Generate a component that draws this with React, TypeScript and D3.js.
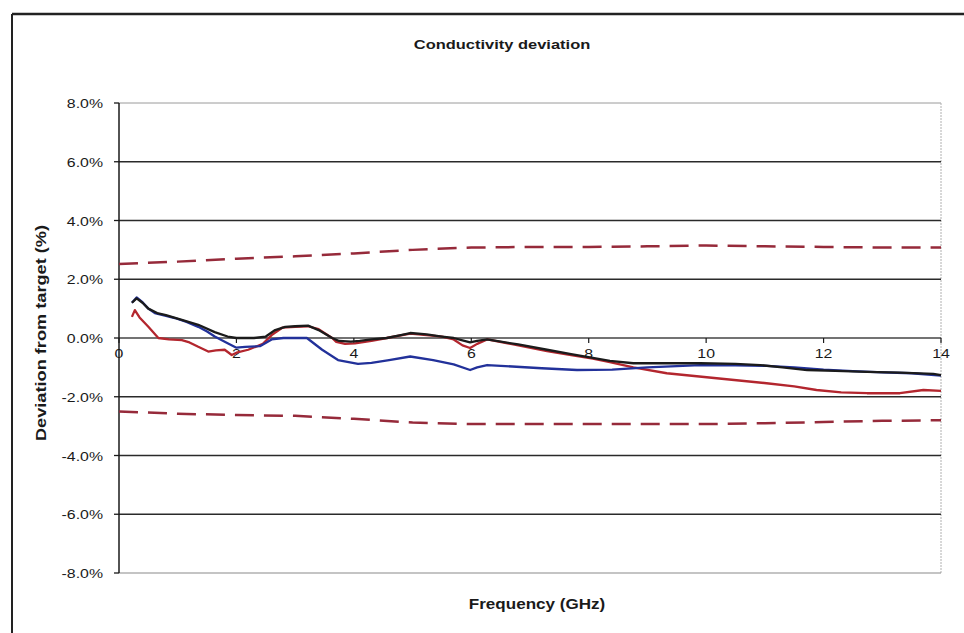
import { useMemo } from 'react';
import * as d3 from 'd3';

// values (GHz, % deviation)
const blackFreq = [0.22, 0.3, 0.4, 0.5, 0.65, 0.8, 1.07, 1.35, 1.63, 1.85, 2.0, 2.3, 2.5, 2.66, 2.83, 3.0, 3.22, 3.4, 3.63, 3.75, 3.95, 4.1, 4.3, 4.56, 4.8, 4.96, 5.24, 5.5, 5.7, 5.85, 5.98, 6.1, 6.27, 6.8, 7.29, 7.7, 8.07, 8.36, 8.76, 9.3, 9.9, 10.5, 10.92, 11.3, 11.72, 12.2, 12.74, 13.3, 13.87, 14];
const blackDev = [1.2, 1.35, 1.2, 1.0, 0.85, 0.78, 0.62, 0.45, 0.2, 0.05, 0.0, 0.0, 0.05, 0.27, 0.38, 0.4, 0.42, 0.27, 0.0, -0.1, -0.12, -0.1, -0.05, 0.0, 0.1, 0.17, 0.12, 0.05, 0.0, -0.08, -0.15, -0.1, -0.05, -0.22, -0.4, -0.55, -0.68, -0.78, -0.86, -0.86, -0.86, -0.88, -0.92, -1.0, -1.09, -1.12, -1.15, -1.18, -1.22, -1.26];

const redFreq = [0.22, 0.27, 0.35, 0.5, 0.67, 0.85, 1.07, 1.2, 1.35, 1.52, 1.65, 1.8, 1.92, 2.0, 2.2, 2.45, 2.6, 2.78, 3.0, 3.22, 3.4, 3.63, 3.7, 3.85, 4.02, 4.3, 4.56, 4.96, 5.24, 5.5, 5.7, 5.85, 5.98, 6.1, 6.27, 6.8, 7.29, 7.7, 8.07, 8.36, 8.76, 9.33, 10.18, 11.03, 11.5, 11.88, 12.3, 12.74, 13.3, 13.7, 14];
const redDev = [0.72, 0.95, 0.7, 0.38, 0.0, -0.05, -0.07, -0.15, -0.3, -0.46, -0.42, -0.4, -0.58, -0.5, -0.4, -0.2, 0.1, 0.35, 0.38, 0.4, 0.3, 0.0, -0.13, -0.2, -0.18, -0.1, 0.0, 0.15, 0.1, 0.05, -0.05, -0.25, -0.34, -0.2, -0.05, -0.25, -0.45, -0.58, -0.7, -0.82, -1.0, -1.2, -1.37, -1.54, -1.65, -1.77, -1.85, -1.88, -1.88, -1.77, -1.8];

const blueFreq = [0.22, 0.3, 0.4, 0.5, 0.61, 0.8, 0.95, 1.15, 1.35, 1.5, 1.63, 1.85, 2.0, 2.15, 2.4, 2.6, 2.8, 3.0, 3.2, 3.46, 3.73, 4.07, 4.3, 4.6, 4.96, 5.35, 5.7, 5.98, 6.1, 6.27, 7.2, 7.8, 8.4, 9.0, 9.9, 10.5, 11.03, 11.5, 12.0, 12.5, 13.0, 13.5, 14];
const blueDev = [1.2, 1.38, 1.22, 1.0, 0.85, 0.75, 0.68, 0.55, 0.38, 0.22, 0.05, -0.18, -0.33, -0.3, -0.28, -0.05, 0.0, 0.0, 0.0, -0.4, -0.75, -0.88, -0.85, -0.75, -0.63, -0.75, -0.9, -1.09, -1.0, -0.92, -1.03, -1.09, -1.08, -1.0, -0.92, -0.93, -0.95, -1.0, -1.08, -1.13, -1.17, -1.2, -1.28];

const limitFreq = [0, 1, 2, 3, 4, 5, 6, 7, 8, 9, 10, 11, 12, 13, 14];
const upperLimit = [2.52, 2.6, 2.7, 2.78, 2.88, 3.0, 3.08, 3.1, 3.1, 3.12, 3.15, 3.12, 3.1, 3.08, 3.08];
const lowerLimit = [-2.5, -2.58, -2.62, -2.65, -2.75, -2.88, -2.93, -2.93, -2.93, -2.93, -2.93, -2.9, -2.86, -2.82, -2.8];

const yTicks = [-8, -6, -4, -2, 0, 2, 4, 6, 8];
const xTicks = [0, 2, 4, 6, 8, 10, 12, 14];

const W = 964;
const H = 633;
const FONT = '"Liberation Sans", Arial, sans-serif';

// the scan is a little wider than it is tall, so text gets stretched sideways
function Txt({ x, y, text, anchor = 'middle', bold = false, size = 13, rotate = 0, sx = 1.22 }: any) {
  return (
    <g transform={`translate(${x},${y}) rotate(${rotate}) scale(${sx},1)`}>
      <text
        textAnchor={anchor}
        fontFamily={FONT}
        fontSize={size}
        fontWeight={bold ? 'bold' : 'normal'}
        fill="#1a1a1a"
      >
        {text}
      </text>
    </g>
  );
}

export default function App() {
  const x = useMemo(() => d3.scaleLinear().domain([0, 14]).range([119, 941]), []);
  const y = useMemo(() => d3.scaleLinear().domain([-8, 8]).range([573, 103]), []);

  const line = d3
    .line<[number, number]>()
    .x((d) => x(d[0]))
    .y((d) => y(d[1]));

  const zip = (f: number[], v: number[]) => f.map((d, i) => [d, v[i]] as [number, number]);

  const series = [
    { f: redFreq, v: redDev, color: '#b3262e' },
    { f: blueFreq, v: blueDev, color: '#22319a' },
    { f: blackFreq, v: blackDev, color: '#1b1b1b' },
  ];

  return (
    <svg
      width={W}
      height={H}
      style={{ position: 'absolute', left: 0, top: 0, background: '#fff' }}
    >
      <rect x={0} y={0} width={W} height={H} fill="#fff" />
      {/* outer chart frame */}
      <line x1={12} y1={14} x2={W} y2={14} stroke="#222" strokeWidth={2.5} />
      <line x1={12} y1={14} x2={12} y2={H} stroke="#222" strokeWidth={2} />

      <Txt x={502} y={49} text="Conductivity deviation" bold size={13.5} />

      {/* plot area border */}
      <line x1={x(0)} y1={y(8)} x2={x(14)} y2={y(8)} stroke="#9a9a9a" strokeWidth={1} />
      <line x1={x(14)} y1={y(8)} x2={x(14)} y2={y(-8)} stroke="#b0b0b0" strokeWidth={1} strokeDasharray="2,1" />
      <line x1={x(0)} y1={y(-8)} x2={x(14)} y2={y(-8)} stroke="#8a8a8a" strokeWidth={1.2} />

      {/* horizontal gridlines */}
      {yTicks
        .filter((t) => t !== 8 && t !== -8)
        .map((t) => (
          <line
            key={t}
            x1={x(0)}
            y1={y(t)}
            x2={x(14)}
            y2={y(t)}
            stroke={t === 0 ? '#444' : '#2a2a2a'}
            strokeWidth={1.6}
          />
        ))}

      {/* y axis */}
      <line x1={x(0)} y1={y(8)} x2={x(0)} y2={y(-8)} stroke="#1a1a1a" strokeWidth={1.5} />
      {yTicks.map((t) => (
        <g key={t}>
          <line x1={x(0) - 5} y1={y(t)} x2={x(0)} y2={y(t)} stroke="#1a1a1a" strokeWidth={1.3} />
          <Txt x={x(0) - 16} y={y(t) + 5} text={`${t.toFixed(1)}%`} anchor="end" size={13} />
        </g>
      ))}

      {/* x axis ticks at 0% */}
      {xTicks.map((t) => (
        <g key={t}>
          <line x1={x(t)} y1={y(0)} x2={x(t)} y2={y(0) + 5} stroke="#1a1a1a" strokeWidth={1.2} />
          <Txt x={x(t)} y={y(0) + 20} text={String(t)} size={13} />
        </g>
      ))}

      {/* tolerance limits */}
      {[upperLimit, lowerLimit].map((v, i) => (
        <path
          key={i}
          d={line(zip(limitFreq, v)) || ''}
          fill="none"
          stroke="#962a3a"
          strokeWidth={2.5}
          strokeDasharray="19,10"
        />
      ))}

      {/* measured series */}
      {series.map((s, i) => (
        <path
          key={i}
          d={line(zip(s.f, s.v)) || ''}
          fill="none"
          stroke={s.color}
          strokeWidth={2.3}
          strokeLinejoin="round"
        />
      ))}

      <Txt x={46} y={333} text="Deviation from target (%)" bold size={14} rotate={-90} sx={1.3} />
      <Txt x={537} y={609} text="Frequency (GHz)" bold size={14} />
    </svg>
  );
}
